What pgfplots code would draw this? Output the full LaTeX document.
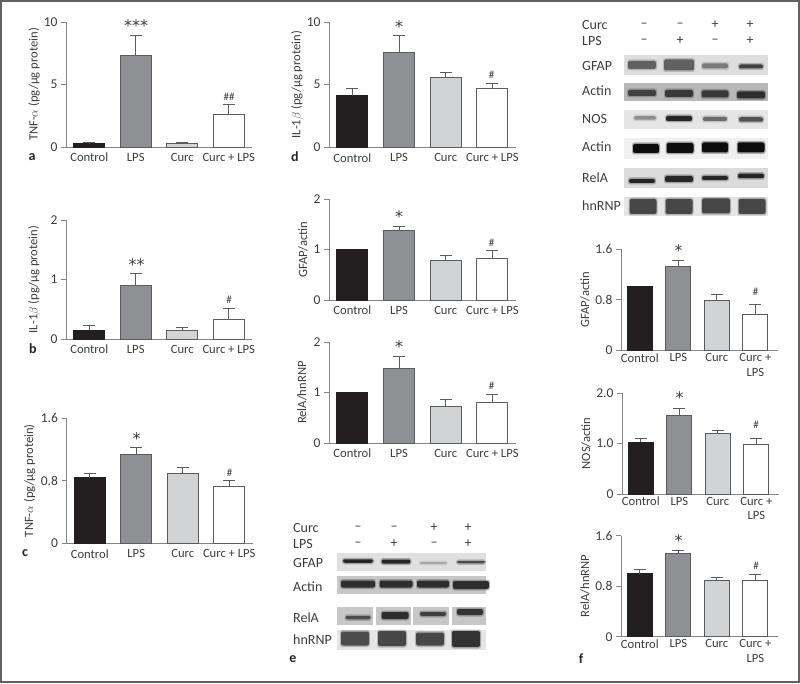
\documentclass[border=0pt]{standalone}
\usepackage{fontspec}
\setmainfont{Carlito}
\newfontfamily\sym{DejaVu Sans}
\usepackage{pgfplots}
\pgfplotsset{compat=1.18}
\definecolor{cA}{HTML}{231F20}
\definecolor{cB}{HTML}{8E9093}
\definecolor{cC}{HTML}{D1D3D4}
\definecolor{edge}{HTML}{5A5B5D}
\definecolor{axisc}{HTML}{858585}
\definecolor{txt}{HTML}{3C3C3C}
\newcommand{\lab}{\fontsize{12.6}{14.5}\selectfont\color{txt}}
\newcommand{\blab}{\fontsize{14}{16}\selectfont\color{txt}}
\pgfplotsset{
 wb/.style={
  scale only axis, anchor=south west, ymin=0,
  axis x line=bottom, axis y line=left,
  axis line style={draw=axisc,line width=0.9pt,-},
  xtick={0,1,2,3},
  xticklabels={Control,LPS,Curc,Curc + LPS},
  xtick style={draw=none},
  ytick style={draw=axisc,line width=0.9pt},
  tick align=outside,
  major tick length=5pt,
  tick label style={font=\lab},
  yticklabel style={font=\fontsize{13.5}{15}\selectfont\color{txt}},
  xticklabel style={yshift=2.5pt},
  clip=false,
  ybar, bar width=31pt, xmin=-0.5, xmax=3.5,
  error bars/y dir=plus, error bars/y explicit,
  error bars/error mark options={rotate=90,mark size=6pt,line width=0.9pt,draw=edge},
  error bars/error bar style={line width=0.9pt,draw=edge},
 },
 fwb/.style={wb, bar width=25pt, xmin=-0.49, xmax=3.59, width=157pt, height=101pt,
  xticklabels={Control,LPS,Curc,{Curc +\\LPS}},
  xticklabel style={align=center,yshift=3pt,anchor=north}},
 lab/.style={every axis y label/.style={at={(axis description cs:0,0.5)},rotate=90,anchor=center,yshift=#1pt,font=\lab}},
}
\newcommand{\fourbars}[8]{
 \ifdim #2pt=0pt
 \addplot[ybar,bar shift=0pt,fill=cA,draw=cA,line width=0.9pt] coordinates {(0,#1)};
 \else
 \addplot[ybar,bar shift=0pt,fill=cA,draw=cA,line width=0.9pt] coordinates {(0,#1) +- (0,#2)};
 \fi
 \addplot[ybar,bar shift=0pt,fill=cB,draw=edge,line width=0.9pt] coordinates {(1,#3) +- (0,#4)};
 \addplot[ybar,bar shift=0pt,fill=cC,draw=edge,line width=0.9pt] coordinates {(2,#5) +- (0,#6)};
 \addplot[ybar,bar shift=0pt,fill=white,draw=edge,line width=0.9pt] coordinates {(3,#7) +- (0,#8)};
}
% annotation helpers, given in pixels from the top left
\newcommand{\T}[4][]{\node[font=\blab,inner sep=0pt,#1] at (#2,683-#3) {#4};}
\newcommand{\onestar}[2]{\stars{#1}{#2}{*}}
\newcommand{\stars}[3]{\node[inner sep=0pt,font=\sym\fontsize{16}{16}\selectfont\color{txt}] at (#1,683-#2) {#3};}
\newcommand{\hash}[3]{\node[inner sep=0pt,font=\fontsize{11}{11}\selectfont\color{txt}] at (#1,683-#2) {#3};}
\newcommand{\panellab}[3]{\node[inner sep=0pt,font=\fontsize{14}{16}\bfseries\selectfont,text=black!85] at (#1,683-#2) {#3};}
% blot helpers
\newcommand{\bg}[5]{\fill[#5] (#1,683-#2) rectangle (#3,683-#4);}
\newcommand{\band}[5]{%
 \fill[#5,opacity=0.3,rounded corners=2.5pt] ({#1-#3/2-1},{683-#2-#4/2-1.5}) rectangle ({#1+#3/2+1},{683-#2+#4/2+1.5});
 \fill[#5,rounded corners=2pt] ({#1-#3/2},{683-#2-#4/2}) rectangle ({#1+#3/2},{683-#2+#4/2});}
\begin{document}
\begin{tikzpicture}[x=1pt,y=1pt]
\path (0,0) rectangle (800,683);
\draw[line width=2pt,color=black!62] (1,1) rectangle (799,682);

% a
\begin{axis}[wb,lab=32,at={(66pt,536pt)},width=186pt,height=125pt,ymax=10,ytick={0,5,10},yticklabels={0,5,10},ylabel={TNF-$\alpha$ (pg/µg protein)}]
\fourbars{0.3}{0.05}{7.3}{1.65}{0.3}{0.05}{2.6}{0.8}
\end{axis}
% b
\begin{axis}[wb,lab=32,at={(66pt,344pt)},width=186pt,height=119pt,ymax=2,ytick={0,1,2},yticklabels={0,1,2},ylabel={IL-1$\beta$ (pg/µg protein)}]
\fourbars{0.15}{0.08}{0.9}{0.2}{0.14}{0.06}{0.33}{0.19}
\end{axis}
% c
\begin{axis}[wb,lab=37,at={(66.5pt,139.7pt)},width=186pt,height=125.3pt,ymax=1.6,ytick={0,0.8,1.6},yticklabels={0,0.8,1.6},ylabel={TNF-$\alpha$ (pg/µg protein)}]
\fourbars{0.84}{0.047}{1.13}{0.095}{0.896}{0.068}{0.725}{0.075}
\end{axis}
% d
\begin{axis}[wb,lab=32,at={(329pt,535.7pt)},width=186.7pt,height=125.3pt,ymax=10,ytick={0,5,10},yticklabels={0,5,10},ylabel={IL-1$\beta$ (pg/µg protein)}]
\fourbars{4.12}{0.58}{7.6}{1.34}{5.56}{0.42}{4.7}{0.4}
\end{axis}
% GFAP middle
\begin{axis}[wb,lab=26,at={(329pt,383pt)},width=186.7pt,height=101pt,ymax=2,ytick={0,1,2},yticklabels={0,1,2},ylabel={GFAP/actin}]
\fourbars{1}{0}{1.37}{0.08}{0.79}{0.1}{0.83}{0.15}
\end{axis}
% RelA middle
\begin{axis}[wb,lab=27,at={(329pt,240pt)},width=186.7pt,height=100.7pt,ymax=2,ytick={0,1,2},yticklabels={0,1,2},ylabel={RelA/hnRNP}]
\fourbars{1}{0}{1.49}{0.23}{0.72}{0.14}{0.80}{0.17}
\end{axis}
% f top
\begin{axis}[fwb,lab=36,at={(621pt,332.7pt)},ymax=1.6,ytick={0,0.8,1.6},yticklabels={0,0.8,1.6},ylabel={GFAP/actin}]
\fourbars{1.01}{0}{1.325}{0.105}{0.79}{0.1}{0.56}{0.16}
\end{axis}
% f middle
\begin{axis}[fwb,lab=36,at={(622pt,189pt)},ymax=2,ytick={0,1,2},yticklabels={0,1.0,2.0},ylabel={NOS/actin}]
\fourbars{1.02}{0.08}{1.56}{0.14}{1.20}{0.05}{0.98}{0.12}
\end{axis}
% f bottom
\begin{axis}[fwb,lab=36,at={(621pt,46.3pt)},ymax=1.6,ytick={0,0.8,1.6},yticklabels={0,0.8,1.6},ylabel={RelA/hnRNP}]
\fourbars{1.0}{0.067}{1.315}{0.055}{0.89}{0.05}{0.89}{0.09}
\end{axis}

% significance marks
\stars{136}{26}{***}
\stars{136.5}{265}{**}
\onestar{136.7}{439}
\hash{229}{97}{\#\#}
\hash{229}{300}{\#}
\hash{229.5}{473}{\#}
\onestar{399}{27}
\hash{491.7}{75}{\#}
\onestar{399}{217}
\hash{491.7}{243}{\#}
\onestar{399}{347}
\hash{491.7}{386}{\#}
\onestar{678.5}{251}
\hash{755.5}{292}{\#}
\onestar{679.5}{398}
\hash{756}{425}{\#}
\onestar{678.5}{541}
\hash{756}{566}{\#}

% panel letters
\panellab{32}{157}{a}
\panellab{33}{349}{b}
\panellab{25}{553}{c}
\panellab{295}{157}{d}
\panellab{293}{659}{e}
\panellab{581}{659}{f}

% blot e
\foreach \l/\y in {Curc/528,LPS/544,GFAP/563,Actin/587,RelA/618,hnRNP/640}{\T[anchor=west]{293}{\y}{\l}}
\foreach \x/\y/\s in {358/528/--,394/528/--,434/528/+,468/528/+,358/544/--,394/544/+,434/544/--,468/544/+}{\T{\x}{\y}{\s}}
\bg{337}{553}{486}{571}{black!12}
\band{358}{561}{30}{3.5}{black!85}
\band{396}{561.5}{29}{4}{black!85}
\band{433}{563}{27}{1.8}{black!35}
\band{471}{562}{28}{2.5}{black!70}
\bg{337}{576}{486}{594}{black!22}
\band{358}{584}{34}{7}{black!82}
\band{396}{584}{33}{7}{black!82}
\band{433}{584}{32}{7}{black!82}
\band{471}{585}{36}{8}{black!82}
\bg{337}{607}{373}{625}{black!22}
\bg{376}{607}{411}{625}{black!22}
\bg{413}{607}{449}{625}{black!22}
\bg{452}{607}{486}{625}{black!22}
\band{358}{617.5}{25}{3.5}{black!70}
\band{395}{615.5}{27}{7}{black!82}
\band{433}{614}{26}{4}{black!75}
\band{470}{612}{26}{6}{black!80}
\bg{337}{630}{486}{650}{black!10}
\band{355}{638.5}{28}{14}{black!70}
\band{392}{638.5}{28}{15}{black!72}
\band{430}{639}{28}{13}{black!72}
\band{466}{639}{28}{16}{black!80}

% blot top right
\foreach \l/\y in {Curc/25,LPS/41,GFAP/66,Actin/91,NOS/119,Actin/147,RelA/178,hnRNP/206}{\T[anchor=west]{582}{\y}{\l}}
\foreach \x/\y/\s in {644/25/--,680/25/--,715/25/+,750/25/+,644/41/--,680/41/+,715/41/--,750/41/+}{\T{\x}{\y}{\s}}
\bg{624}{55}{768}{75}{black!13}
\band{642}{65}{28}{8}{black!62}
\band{679}{65}{30}{11}{black!62}
\band{715}{66}{26}{5}{black!52}
\band{751}{66.5}{24}{4}{black!75}
\bg{624}{83}{768}{101}{black!28}
\band{642}{93}{28}{6}{black!75}
\band{679}{93.5}{28}{7}{black!78}
\band{715}{94}{27}{7}{black!78}
\band{751}{95}{28}{7}{black!82}
\bg{624}{110}{768}{129}{black!10}
\band{645}{118}{22}{3.5}{black!45}
\band{679}{118.5}{26}{5}{black!85}
\band{715}{119}{24}{4}{black!58}
\band{751}{119.5}{24}{4.5}{black!68}
\bg{624}{138}{768}{159}{black!6}
\band{646}{148.5}{26}{9}{black!95}
\band{680}{148}{27}{10}{black!95}
\band{715}{147.5}{26}{10}{black!95}
\band{751}{147.5}{27}{10}{black!95}
\bg{624}{168}{768}{188}{black!14}
\band{642}{181}{26}{4}{black!85}
\band{679}{179}{28}{6}{black!85}
\band{715}{178}{26}{4}{black!85}
\band{751}{176}{26}{4.5}{black!85}
\bg{624}{197}{768}{216}{black!10}
\band{643}{206.5}{27}{15}{black!72}
\band{679}{206.5}{27}{15}{black!72}
\band{716}{206}{28}{15}{black!72}
\band{752}{206.5}{27}{15}{black!72}
\end{tikzpicture}
\end{document}
